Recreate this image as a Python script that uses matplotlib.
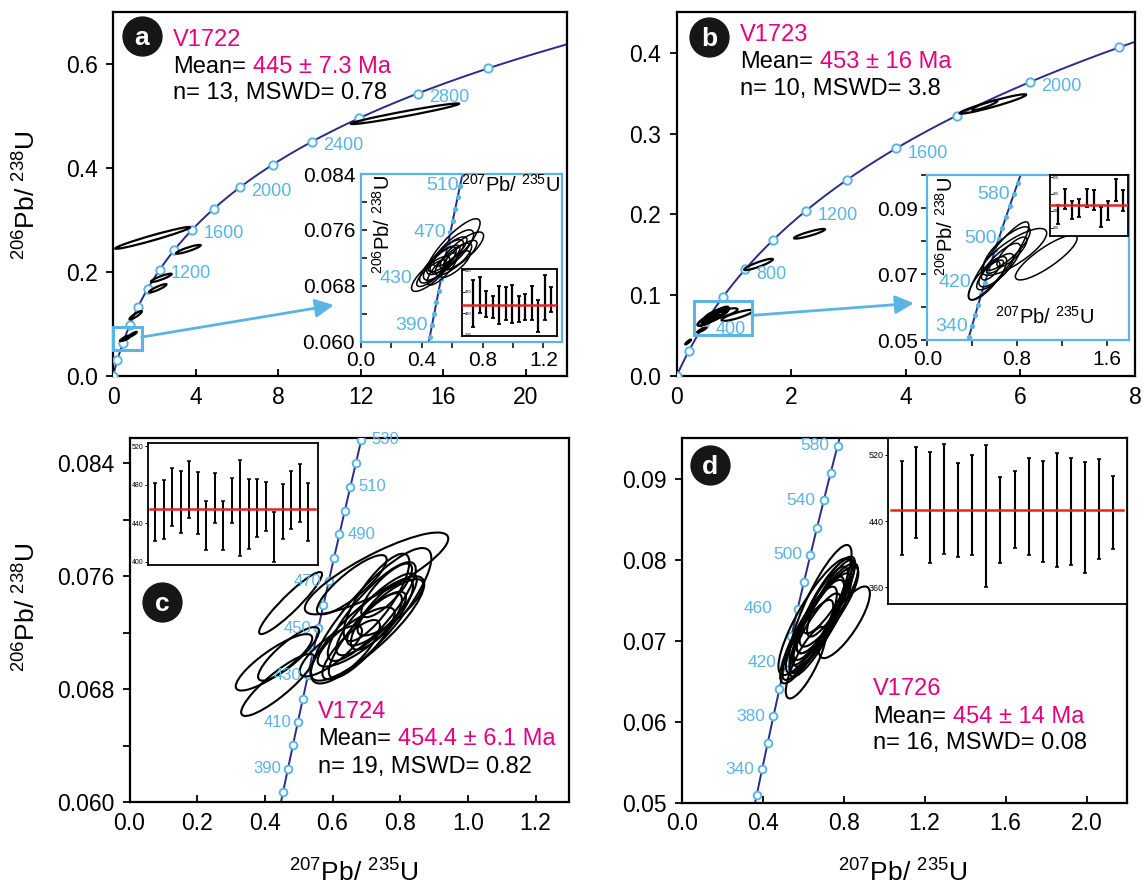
import numpy as np
import matplotlib.pyplot as plt
from matplotlib.patches import Ellipse, Rectangle
from matplotlib.transforms import Affine2D

plt.rcParams['font.family'] = ['Liberation Sans', 'DejaVu Sans']
plt.rcParams['mathtext.fontset'] = 'custom'
plt.rcParams['mathtext.rm'] = 'Liberation Sans'
plt.rcParams['mathtext.it'] = 'Liberation Sans:italic'
plt.rcParams['mathtext.bf'] = 'Liberation Sans:bold'
plt.rcParams['mathtext.default'] = 'regular'

NAVY = '#2b2c86'
SKY = '#5ab4e4'
PINK = '#e5007e'
RED = '#e5261f'

# decay constants (1/Ma), used for the concordia reference curve
L238 = 1.55125e-4
L235 = 9.8485e-4

# ---------------- concordia age marks (Ma) ----------------
marks_a = [0, 200, 400, 600, 800, 1000, 1200, 1400, 1600, 1800, 2000, 2200, 2400, 2600, 2800, 3000]
labels_a = [1200, 1600, 2000, 2400, 2800]
marks_b = [0, 200, 400, 600, 800, 1000, 1200, 1400, 1600, 1800, 2000, 2200]
labels_b = [400, 800, 1200, 1600, 2000]
marks_a_in = [380, 390, 400, 410, 420, 430, 440, 450, 460, 470, 480, 490, 500, 510, 520]
labels_a_in = [390, 430, 470, 510]
marks_b_in = [320, 340, 360, 380, 400, 420, 440, 460, 480, 500, 520, 540, 560, 580, 600]
labels_b_in = [340, 420, 500, 580]
marks_c = [380, 390, 400, 410, 420, 430, 440, 450, 460, 470, 480, 490, 500, 510, 520, 530]
labels_c = [390, 410, 430, 450, 470, 490, 510, 530]
marks_d = [320, 340, 360, 380, 400, 420, 440, 460, 480, 500, 520, 540, 560, 580]
labels_d = [340, 380, 420, 460, 500, 540, 580]

# ---------------- ellipses: centre, half-extent x/y, correlation ----------------
# V1722 concordant grains (inset a)
ea_x = [0.609, 0.460, 0.507, 0.664, 0.599, 0.544, 0.588, 0.535, 0.653, 0.609, 0.467, 0.620, 0.548]
ea_y = [0.0736, 0.0697, 0.0710, 0.0730, 0.0729, 0.0717, 0.0729, 0.0704, 0.0724, 0.0718, 0.0698, 0.0711, 0.0719]
ea_sx = [0.175, 0.126, 0.120, 0.143, 0.143, 0.132, 0.110, 0.099, 0.110, 0.120, 0.099, 0.099, 0.104]
ea_sy = [0.0040, 0.0025, 0.0026, 0.0027, 0.0031, 0.0029, 0.0021, 0.0023, 0.0021, 0.0023, 0.0019, 0.0019, 0.0019]
ea_r = [0.85, 0.8, 0.8, 0.8, 0.8, 0.8, 0.8, 0.8, 0.8, 0.8, 0.8, 0.8, 0.8]
# V1722 older grains (main a)
da_x = [14.15, 1.92, 3.65, 2.34, 2.17, 1.10, 0.95]
da_y = [0.505, 0.266, 0.244, 0.189, 0.169, 0.117, 0.080]
da_sx = [2.62, 1.81, 0.60, 0.50, 0.42, 0.30, 0.20]
da_sy = [0.0199, 0.021, 0.0085, 0.008, 0.008, 0.008, 0.005]
da_r = [0.97, 0.97, 0.9, 0.9, 0.9, 0.9, 0.9]

# V1723 (inset b)
eb_x = [1.06, 0.774, 0.637, 0.536, 0.646, 0.709, 0.604, 0.604, 0.565, 0.754]
eb_y = [0.0750, 0.0767, 0.0740, 0.0687, 0.0727, 0.0777, 0.0707, 0.0722, 0.0710, 0.0767]
eb_sx = [0.275, 0.290, 0.268, 0.171, 0.186, 0.208, 0.164, 0.075, 0.082, 0.134]
eb_sy = [0.0068, 0.0071, 0.0118, 0.0066, 0.0066, 0.0066, 0.0055, 0.0020, 0.0028, 0.0045]
eb_r = [0.85, 0.8, 0.9, 0.8, 0.8, 0.8, 0.8, 0.7, 0.7, 0.8]
# V1723 older grains (main b)
db_x = [5.52, 5.38, 2.32, 1.43, 0.44, 0.20]
db_y = [0.3366, 0.3350, 0.176, 0.138, 0.057, 0.042]
db_sx = [0.58, 0.22, 0.27, 0.25, 0.08, 0.05]
db_sy = [0.012, 0.006, 0.006, 0.007, 0.003, 0.003]
db_r = [0.95, 0.9, 0.9, 0.9, 0.9, 0.9]

# V1724
ec_x = [0.476, 0.427, 0.438, 0.470, 0.730, 0.714, 0.703, 0.716, 0.730, 0.746,
        0.697, 0.730, 0.657, 0.670, 0.771, 0.655, 0.730, 0.760, 0.595]
ec_y = [0.0741, 0.0699, 0.0683, 0.0705, 0.0762, 0.0732, 0.0723, 0.0735, 0.0733, 0.0733,
        0.0718, 0.0745, 0.0754, 0.0717, 0.0738, 0.0708, 0.0730, 0.0750, 0.0707]
ec_sx = [0.093, 0.113, 0.108, 0.090, 0.212, 0.178, 0.168, 0.130, 0.119, 0.092,
         0.108, 0.097, 0.103, 0.114, 0.097, 0.085, 0.087, 0.075, 0.092]
ec_sy = [0.0022, 0.0020, 0.0022, 0.0019, 0.0029, 0.0048, 0.0037, 0.0035, 0.0029, 0.0025,
         0.0030, 0.0031, 0.0021, 0.0021, 0.0020, 0.0021, 0.0019, 0.0019, 0.0018]
ec_r = [0.93, 0.85, 0.88, 0.85, 0.85, 0.85, 0.85, 0.85, 0.85, 0.8,
        0.85, 0.8, 0.85, 0.8, 0.8, 0.8, 0.8, 0.8, 0.8]

# V1726
ed_x = [0.686, 0.659, 0.614, 0.804, 0.627, 0.713, 0.686, 0.727, 0.668, 0.723,
        0.623, 0.720, 0.659, 0.737, 0.659, 0.694]
ed_y = [0.07445, 0.0730, 0.06732, 0.07231, 0.07074, 0.07445, 0.07343, 0.07445, 0.07198, 0.07557,
        0.07013, 0.07384, 0.07074, 0.07528, 0.07178, 0.0726]
ed_sx = [0.1535, 0.1806, 0.0993, 0.126, 0.140, 0.144, 0.135, 0.144, 0.135, 0.122,
         0.126, 0.153, 0.126, 0.117, 0.144, 0.144]
ed_sy = [0.00742, 0.00722, 0.00443, 0.00443, 0.00598, 0.00598, 0.00577, 0.00515, 0.00598, 0.00464,
         0.00495, 0.00536, 0.00515, 0.00474, 0.00577, 0.00577]
ed_r = [0.85, 0.85, 0.8, 0.8, 0.85, 0.85, 0.85, 0.85, 0.85, 0.85,
        0.85, 0.85, 0.85, 0.85, 0.85, 0.85]

# ---------------- weighted-mean age bars (Ma) ----------------
bars_a_lo = [404, 430, 423, 421, 410, 418, 412, 414, 418, 417, 396, 417, 432]
bars_a_hi = [492, 497, 471, 463, 481, 479, 482, 463, 467, 481, 455, 502, 479]
bars_b_lo = [408, 444, 420, 425, 449, 441, 402, 419, 464, 439]
bars_b_hi = [453, 492, 464, 469, 492, 490, 449, 463, 516, 490]
bars_c_lo = [421, 424, 437, 430, 445, 429, 412, 440, 412, 440, 406, 413, 426, 432, 400, 424, 434, 441, 421]
bars_c_hi = [482, 485, 497, 494, 505, 493, 463, 492, 463, 487, 506, 486, 486, 483, 452, 481, 494, 501, 482]
bars_d_lo = [399, 420, 390, 400, 397, 399, 360, 389, 408, 399, 391, 385, 387, 377, 394, 406]
bars_d_hi = [512, 529, 523, 533, 510, 520, 532, 493, 500, 516, 512, 522, 516, 511, 515, 494]

samples = ['V1722', 'V1723', 'V1724', 'V1726']
means = [445, 453, 454.4, 454]
mean_txt = ['445 \u00b1 7.3 Ma', '453 \u00b1 16 Ma', '454.4 \u00b1 6.1 Ma', '454 \u00b1 14 Ma']
stats_txt = ['n= 13, MSWD= 0.78', 'n= 10, MSWD= 3.8', 'n= 19, MSWD= 0.82', 'n= 16, MSWD= 0.08']

YLAB = r'$^{206}$Pb/ $^{238}$U'
XLAB = r'$^{207}$Pb/ $^{235}$U'


def conc(t):
    t = np.asarray(t, float)
    return np.expm1(L235 * t), np.expm1(L238 * t)


def draw_concordia(ax, marks, labels, offsets, open_marks=True, ms=6, fs=12.5):
    cx, cy = conc(np.linspace(0, 4600, 3000))
    ax.plot(cx, cy, color=NAVY, lw=1.4, zorder=2)
    mx, my = conc(marks)
    if open_marks:
        ax.plot(mx, my, 'o', ms=ms, mfc='white', mec=SKY, mew=1.4, zorder=3)
    else:
        ax.plot(mx, my, 'o', ms=ms, color=SKY, mew=0, zorder=3)
    lx, ly = conc(labels)
    for age, x, y in zip(labels, lx, ly):
        dx, dy = offsets.get(age, offsets['default'])
        ax.annotate(str(age), (x, y), xytext=(dx, dy), textcoords='offset points',
                    ha='left' if dx > 0 else 'right', va='center',
                    color=SKY, fontsize=fs, zorder=4, annotation_clip=True)


def draw_ellipses(ax, xs, ys, sxs, sys_, rs, lw=1.3):
    for cx, cy, sx, sy, r in zip(xs, ys, sxs, sys_, rs):
        m = np.array([[sx, 0.0, cx], [sy * r, sy * np.sqrt(1 - r * r), cy], [0, 0, 1]])
        tr = Affine2D(m) + ax.transData
        ax.add_patch(Ellipse((0, 0), 2, 2, transform=tr, fill=False, ec='black', lw=lw, zorder=3))


def style_main(ax, xlim, ylim, xt, xtl, yt, ytl, yminor=None, xminor=None):
    ax.set_xlim(*xlim)
    ax.set_ylim(*ylim)
    ax.set_xticks(xt)
    ax.set_xticklabels(xtl)
    ax.set_yticks(yt)
    ax.set_yticklabels(ytl)
    if yminor is not None:
        ax.set_yticks(yminor, minor=True)
    if xminor is not None:
        ax.set_xticks(xminor, minor=True)
    ax.tick_params(axis='x', which='both', direction='in', length=5, width=1.3, labelsize=16.5, pad=7)
    ax.tick_params(axis='y', which='both', direction='out', length=5, width=1.3, labelsize=16.5, pad=6)
    for s in ax.spines.values():
        s.set_linewidth(1.6)


def letter(ax, fx, fy, ch):
    ax.plot(fx, fy, 'o', ms=28, color='#161616', transform=ax.transAxes, clip_on=False, zorder=6)
    ax.text(fx, fy - 0.005, ch, color='white', fontsize=19, fontweight='bold',
            ha='center', va='center', transform=ax.transAxes, zorder=7)


def info(ax, fx, fys, i):
    ax.text(fx, fys[0], samples[i], color=PINK, fontsize=17, va='center', transform=ax.transAxes, zorder=6)
    t = ax.text(fx, fys[1], 'Mean=', color='black', fontsize=17, va='center', transform=ax.transAxes, zorder=6)
    ax.annotate(mean_txt[i], xy=(1, 0.5), xycoords=t, xytext=(5, 0), textcoords='offset points',
                va='center', ha='left', color=PINK, fontsize=17, zorder=6)
    ax.text(fx, fys[2], stats_txt[i], color='black', fontsize=17, va='center', transform=ax.transAxes, zorder=6)


def bar_inset(rect, lo, hi, mean, xlim, ylim, yt, fs, inside, lw=1.4):
    axb = fig.add_axes(rect)
    lo = np.array(lo, float)
    hi = np.array(hi, float)
    x = np.arange(1, len(lo) + 1)
    axb.errorbar(x, (lo + hi) / 2, yerr=(hi - lo) / 2, fmt='none', ecolor='black',
                 elinewidth=lw, capsize=1.6, capthick=lw * 0.8)
    axb.axhline(mean, xmin=0.015, xmax=0.985, color=RED, lw=1.8, zorder=5)
    axb.set_xlim(*xlim)
    axb.set_ylim(*ylim)
    axb.set_xticks([])
    axb.set_yticks(yt)
    axb.set_yticklabels([str(v) for v in yt])
    if inside:
        axb.tick_params(axis='y', direction='in', length=2, width=0.6, labelsize=fs, pad=-2)
        for lab in axb.get_yticklabels():
            lab.set_horizontalalignment('left')
    else:
        axb.tick_params(axis='y', direction='out', length=2, width=0.7, labelsize=fs, pad=1)
    for s in axb.spines.values():
        s.set_linewidth(1.3)
    return axb


W, H = 1144, 889
fig = plt.figure(figsize=(W / 100, H / 100), dpi=100)


def frac(l, t, r, b):
    return [l / W, 1 - b / H, (r - l) / W, (b - t) / H]


# ================= panel a =================
ax_a = fig.add_axes(frac(113, 12.5, 567, 376))
style_main(ax_a, (0, 22), (0, 0.7), [0, 4, 8, 12, 16, 20], ['0', '4', '8', '12', '16', '20'],
           [0, 0.2, 0.4, 0.6], ['0.0', '0.2', '0.4', '0.6'])
draw_concordia(ax_a, marks_a, labels_a, {'default': (8, -3)}, ms=6, fs=13)
draw_ellipses(ax_a, da_x, da_y, da_sx, da_sy, da_r, lw=1.6)
draw_ellipses(ax_a, ea_x, ea_y, ea_sx, ea_sy, ea_r, lw=1.6)
ax_a.add_patch(Rectangle((0, 0.051), 1.39, 0.0438, fill=False, ec=SKY, lw=2.2, clip_on=False, zorder=4))
ax_a.annotate('', xy=(10.7, 0.1365), xytext=(1.39, 0.075),
              arrowprops=dict(arrowstyle='-|>', color=SKY, lw=2, mutation_scale=28, shrinkA=0, shrinkB=0))
letter(ax_a, 0.063, 0.935, 'a')
info(ax_a, 0.133, [0.924, 0.851, 0.779], 0)
fig.text(27 / W, 1 - 195 / H, YLAB, rotation=90, fontsize=19, ha='center', va='center')

ax_ai = fig.add_axes(frac(360.7, 174, 561.7, 341.7))
ax_ai.set_xlim(0, 1.32)
ax_ai.set_ylim(0.060, 0.084)
ax_ai.set_xticks([0, 0.4, 0.8, 1.2])
ax_ai.set_xticklabels(['0.0', '0.4', '0.8', '1.2'])
ax_ai.set_xticks([0.2, 0.6, 1.0], minor=True)
ax_ai.set_yticks([0.060, 0.068, 0.076, 0.084])
ax_ai.set_yticklabels(['0.060', '0.068', '0.076', '0.084'])
ax_ai.set_yticks([0.064, 0.072, 0.080], minor=True)
ax_ai.tick_params(axis='x', which='both', direction='out', length=4, width=1.1, labelsize=15, pad=3)
ax_ai.tick_params(axis='y', which='both', direction='in', length=4, width=1.1, labelsize=15, pad=4)
for s in ax_ai.spines.values():
    s.set_color(SKY)
    s.set_linewidth(1.6)
draw_concordia(ax_ai, marks_a_in, labels_a_in,
               {'default': (-3, 0), 510: (-1, 0), 430: (-21, 0)}, open_marks=False, ms=3.8, fs=14)
draw_ellipses(ax_ai, ea_x, ea_y, ea_sx, ea_sy, ea_r, lw=1.1)
ax_ai.text(0.99, 0.935, XLAB, transform=ax_ai.transAxes, ha='right', va='center', fontsize=14.5)
ax_ai.text(0.11, 0.70, YLAB, transform=ax_ai.transAxes, rotation=90, ha='center', va='center', fontsize=14.5)

bar_inset(frac(462, 269.3, 557, 336), bars_a_lo, bars_a_hi, means[0], (-0.745, 13.92), (388, 512),
          [390, 430, 470, 510], 3, True, lw=1.6)

# ================= panel b =================
ax_b = fig.add_axes(frac(676.6, 12.3, 1135, 376))
style_main(ax_b, (0, 8), (0, 0.45), [0, 2, 4, 6, 8], ['0', '2', '4', '6', '8'],
           [0, 0.1, 0.2, 0.3, 0.4], ['0.0', '0.1', '0.2', '0.3', '0.4'])
draw_concordia(ax_b, marks_b, labels_b, {'default': (8, -3.5)}, ms=6, fs=13)
draw_ellipses(ax_b, db_x, db_y, db_sx, db_sy, db_r, lw=1.6)
draw_ellipses(ax_b, eb_x, eb_y, eb_sx, eb_sy, eb_r, lw=1.6)
ax_b.add_patch(Rectangle((0.31, 0.0507), 1.0, 0.0421, fill=False, ec=SKY, lw=2.2, zorder=4))
ax_b.annotate('', xy=(4.14, 0.09), xytext=(1.31, 0.075),
              arrowprops=dict(arrowstyle='-|>', color=SKY, lw=2, mutation_scale=28, shrinkA=0, shrinkB=0))
letter(ax_b, 0.0707, 0.932, 'b')
info(ax_b, 0.138, [0.938, 0.863, 0.788], 1)

ax_bi = fig.add_axes(frac(927.3, 175, 1129.3, 340))
ax_bi.set_xlim(0, 1.8)
ax_bi.set_ylim(0.05, 0.10)
ax_bi.set_xticks([0, 0.8, 1.6])
ax_bi.set_xticklabels(['0.0', '0.8', '1.6'])
ax_bi.set_xticks([0.4, 1.2], minor=True)
ax_bi.set_yticks([0.05, 0.07, 0.09])
ax_bi.set_yticklabels(['0.05', '0.07', '0.09'])
ax_bi.set_yticks([0.06, 0.08, 0.10], minor=True)
ax_bi.tick_params(axis='both', which='both', direction='out', length=4, width=1.1, labelsize=15, pad=3)
for s in ax_bi.spines.values():
    s.set_color(SKY)
    s.set_linewidth(1.6)
draw_concordia(ax_bi, marks_b_in, labels_b_in,
               {'default': (-3, 0), 500: (-1.5, 0), 420: (-10, 0)}, open_marks=False, ms=3.8, fs=14)
draw_ellipses(ax_bi, eb_x, eb_y, eb_sx, eb_sy, eb_r, lw=1.1)
ax_bi.text(0.58, 0.14, XLAB, transform=ax_bi.transAxes, ha='center', va='center', fontsize=14.5)
ax_bi.text(0.09, 0.69, YLAB, transform=ax_bi.transAxes, rotation=90, ha='center', va='center', fontsize=14.5)

bar_inset(frac(1050, 175, 1128, 236), bars_b_lo, bars_b_hi, means[1], (-0.066, 10.73), (380, 525),
          [400, 440, 480, 520], 2.5, True, lw=1.6)

# ================= panel c =================
ax_c = fig.add_axes(frac(129.5, 438, 569.4, 802))
style_main(ax_c, (0, 1.3), (0.060, 0.0858),
           [0, 0.2, 0.4, 0.6, 0.8, 1.0, 1.2], ['0.0', '0.2', '0.4', '0.6', '0.8', '1.0', '1.2'],
           [0.060, 0.068, 0.076, 0.084], ['0.060', '0.068', '0.076', '0.084'],
           yminor=[0.064, 0.072, 0.080])
draw_concordia(ax_c, marks_c, labels_c,
               {'default': (-5, 0), 490: (6, 0), 510: (6, 0), 530: (7.5, 0)}, ms=5.5, fs=12)
draw_ellipses(ax_c, ec_x, ec_y, ec_sx, ec_sy, ec_r, lw=1.5)
letter(ax_c, 0.0748, 0.549, 'c')
info(ax_c, 0.429, [0.248, 0.172, 0.097], 2)
fig.text(27 / W, 1 - 607 / H, YLAB, rotation=90, fontsize=19, ha='center', va='center')
fig.text(354 / W, 1 - 873 / H, XLAB, fontsize=19, ha='center', va='center')

bar_inset(frac(147.8, 443.3, 317.6, 565), bars_c_lo, bars_c_hi, means[2], (0.155, 20.09), (396.5, 523),
          [400, 440, 480, 520], 5, False, lw=1.4)

# ================= panel d =================
ax_d = fig.add_axes(frac(681.6, 438, 1127, 802.7))
style_main(ax_d, (0, 2.2), (0.05, 0.0951),
           [0, 0.4, 0.8, 1.2, 1.6, 2.0], ['0.0', '0.4', '0.8', '1.2', '1.6', '2.0'],
           [0.05, 0.06, 0.07, 0.08, 0.09], ['0.05', '0.06', '0.07', '0.08', '0.09'])
draw_concordia(ax_d, marks_d, labels_d, {'default': (-6, 0), 460: (-18, 0)}, ms=5.5, fs=12.5)
draw_ellipses(ax_d, ed_x, ed_y, ed_sx, ed_sy, ed_r, lw=1.5)
letter(ax_d, 0.0638, 0.926, 'd')
info(ax_d, 0.43, [0.311, 0.236, 0.163], 3)
fig.text(903 / W, 1 - 873 / H, XLAB, fontsize=19, ha='center', va='center')

bar_inset(frac(887.7, 438.3, 1127, 604), bars_d_lo, bars_d_hi, means[3], (0.008, 16.97), (340, 540),
          [360, 440, 520], 6.5, False, lw=1.5)

fig.savefig('out.png', dpi=100)
